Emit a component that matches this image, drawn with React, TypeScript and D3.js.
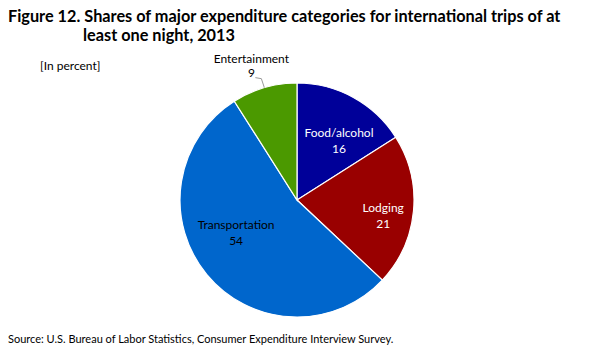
import React, { useRef, useEffect } from "react";
import * as d3 from "d3";

const categories = ["Food/alcohol", "Lodging", "Transportation", "Entertainment"];
const shares = [16, 21, 54, 9];
const colors = ["#000099", "#990000", "#0066cc", "#4b9900"];

const App: React.FC = () => {
  const svgRef = useRef<SVGSVGElement>(null);

  useEffect(() => {
    if (!svgRef.current) return;
    const svg = d3.select(svgRef.current);
    svg.selectAll("*").remove();

    const font = "Lato, 'Open Sans', sans-serif";
    const cx = 297;
    const cy = 200;
    const r = 117;

    svg
      .append("text")
      .attr("x", 8)
      .attr("y", 22)
      .attr("font-family", font)
      .attr("font-weight", "bold")
      .attr("font-size", 16.3)
      .text("Figure 12. Shares of major expenditure categories for international  trips of at");
    svg
      .append("text")
      .attr("x", 83)
      .attr("y", 41)
      .attr("font-family", font)
      .attr("font-weight", "bold")
      .attr("font-size", 16.3)
      .text("least one night, 2013");

    svg
      .append("text")
      .attr("x", 40)
      .attr("y", 70)
      .attr("font-family", font)
      .attr("font-size", 12)
      .text("[In percent]");

    const data = categories.map((c, i) => ({ name: c, value: shares[i], color: colors[i] }));
    const pie = d3.pie<any>().value((d) => d.value).sort(null);
    const arc = d3.arc<any>().innerRadius(0).outerRadius(r);
    const arcs = pie(data);

    const g = svg.append("g").attr("transform", `translate(${cx},${cy})`);
    g.selectAll("path")
      .data(arcs)
      .enter()
      .append("path")
      .attr("d", arc)
      .attr("fill", (d) => d.data.color)
      .attr("stroke", "#fff")
      .attr("stroke-width", 1.2);

    // inside labels
    const labelArc = d3.arc<any>().innerRadius(r * 0.62).outerRadius(r * 0.62);
    const offsets: Record<string, [number, number]> = {
      "Food/alcohol": [7, 4],
      Lodging: [14, 8],
      Transportation: [-5, -14],
    };
    arcs.forEach((d) => {
      if (d.data.name === "Entertainment") return;
      const [x, y] = labelArc.centroid(d);
      const [ox, oy] = offsets[d.data.name] || [0, 0];
      const t = g
        .append("text")
        .attr("text-anchor", "middle")
        .attr("font-family", font)
        .attr("font-size", 12)
        .attr("fill", d.data.name === "Transportation" ? "#000" : "#fff");
      t.append("tspan").attr("x", x + ox).attr("y", y + oy - 3).text(d.data.name);
      t.append("tspan").attr("x", x + ox).attr("y", y + oy + 13).text(String(d.data.value));
    });

    // Entertainment label outside with leader
    const ent = arcs[3];
    const mid = (ent.startAngle + ent.endAngle) / 2;
    const px = Math.sin(mid) * r;
    const py = -Math.cos(mid) * r;
    g.append("path")
      .attr("d", `M${px},${py} L${px - 3},${py - 9} L${px - 9},${py - 10}`)
      .attr("fill", "none")
      .attr("stroke", "#999")
      .attr("stroke-width", 1);
    const et = g
      .append("text")
      .attr("text-anchor", "middle")
      .attr("font-family", font)
      .attr("font-size", 12)
      .attr("fill", "#000");
    et.append("tspan").attr("x", px - 13).attr("y", py - 25).text("Entertainment");
    et.append("tspan").attr("x", px - 13).attr("y", py - 11).text(String(ent.data.value));

    svg
      .append("text")
      .attr("x", 8)
      .attr("y", 343)
      .attr("font-family", font)
      .attr("font-size", 11)
      .text("Source: U.S. Bureau  of Labor Statistics,  Consumer Expenditure  Interview  Survey.");
  }, []);

  return <svg ref={svgRef} width={599} height={359} style={{ display: "block", margin: -8 }} />;
};

export default App;
